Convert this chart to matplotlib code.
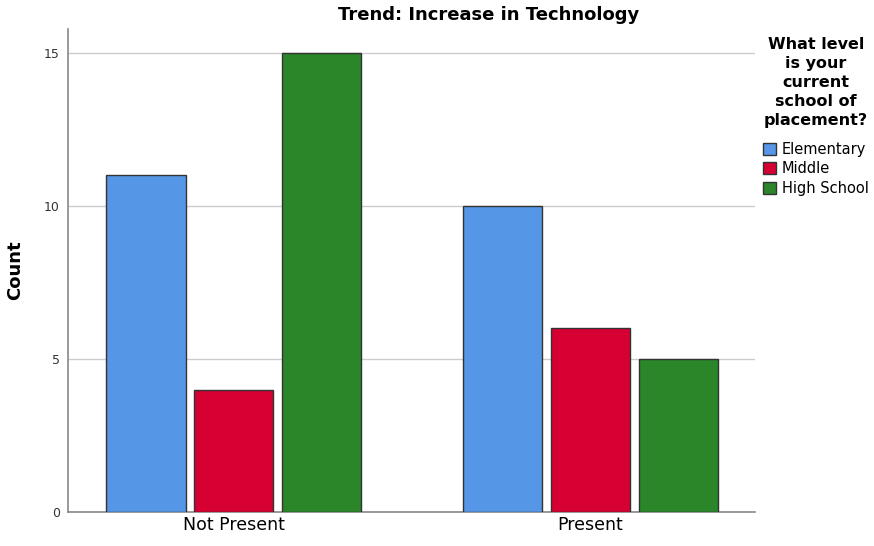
import numpy as np
import matplotlib.pyplot as plt
from matplotlib.patches import Patch

categories = ["Not Present", "Present"]
levels = ["Elementary", "Middle", "High School"]
elementary = [11, 10]
middle = [4, 6]
high_school = [15, 5]
colors = ["#5596E6", "#D60032", "#2A8629"]

fig = plt.figure(figsize=(8.74, 5.46), dpi=100)
ax = fig.add_axes([0.0778, 0.0623, 0.786, 0.8846])

x = np.arange(len(categories))
w = 0.222
step = 0.247
for i, (vals, c) in enumerate(zip([elementary, middle, high_school], colors)):
    ax.bar(x + (i - 1) * step, vals, width=w, color=c, edgecolor="#333333",
           linewidth=1, zorder=3)

ax.set_xlim(-0.466, 1.463)
ax.set_ylim(0, 15.78)
ax.set_yticks([0, 5, 10, 15])
ax.set_xticks(x)
ax.set_xticklabels(categories, fontsize=12.5)
ax.tick_params(axis="y", labelsize=9, length=0, pad=6, colors="#333333")
ax.tick_params(axis="x", length=0, pad=3)
ax.grid(axis="y", color="#cccccc", linewidth=1, zorder=0)
for s in ["top", "right"]:
    ax.spines[s].set_visible(False)
for s in ["left", "bottom"]:
    ax.spines[s].set_color("#888888")
    ax.spines[s].set_linewidth(1.2)

ax.set_ylabel("Count", fontsize=13, fontweight="bold", labelpad=14)
fig.text(489 / 874, 1 - 15 / 546, "Trend: Increase in Technology",
         ha="center", va="center", fontsize=13, fontweight="bold")

# legend title as separate text so it stays inside the figure
fig.text(816 / 874, 1 - 37 / 546, "What level\nis your\ncurrent\nschool of\nplacement?",
         ha="center", va="top", fontsize=11.5, fontweight="bold",
         multialignment="center", linespacing=1.33)

handles = [Patch(facecolor=c, edgecolor="#333333", label=l) for c, l in zip(colors, levels)]
leg = fig.legend(handles=handles, loc="upper left", bbox_to_anchor=(760 / 874, 1 - 139 / 546),
                 frameon=False, fontsize=10.5, handlelength=0.9, handleheight=0.9,
                 handletextpad=0.4, labelspacing=0.3, borderpad=0.2, borderaxespad=0)

fig.savefig("out.png", dpi=100)
